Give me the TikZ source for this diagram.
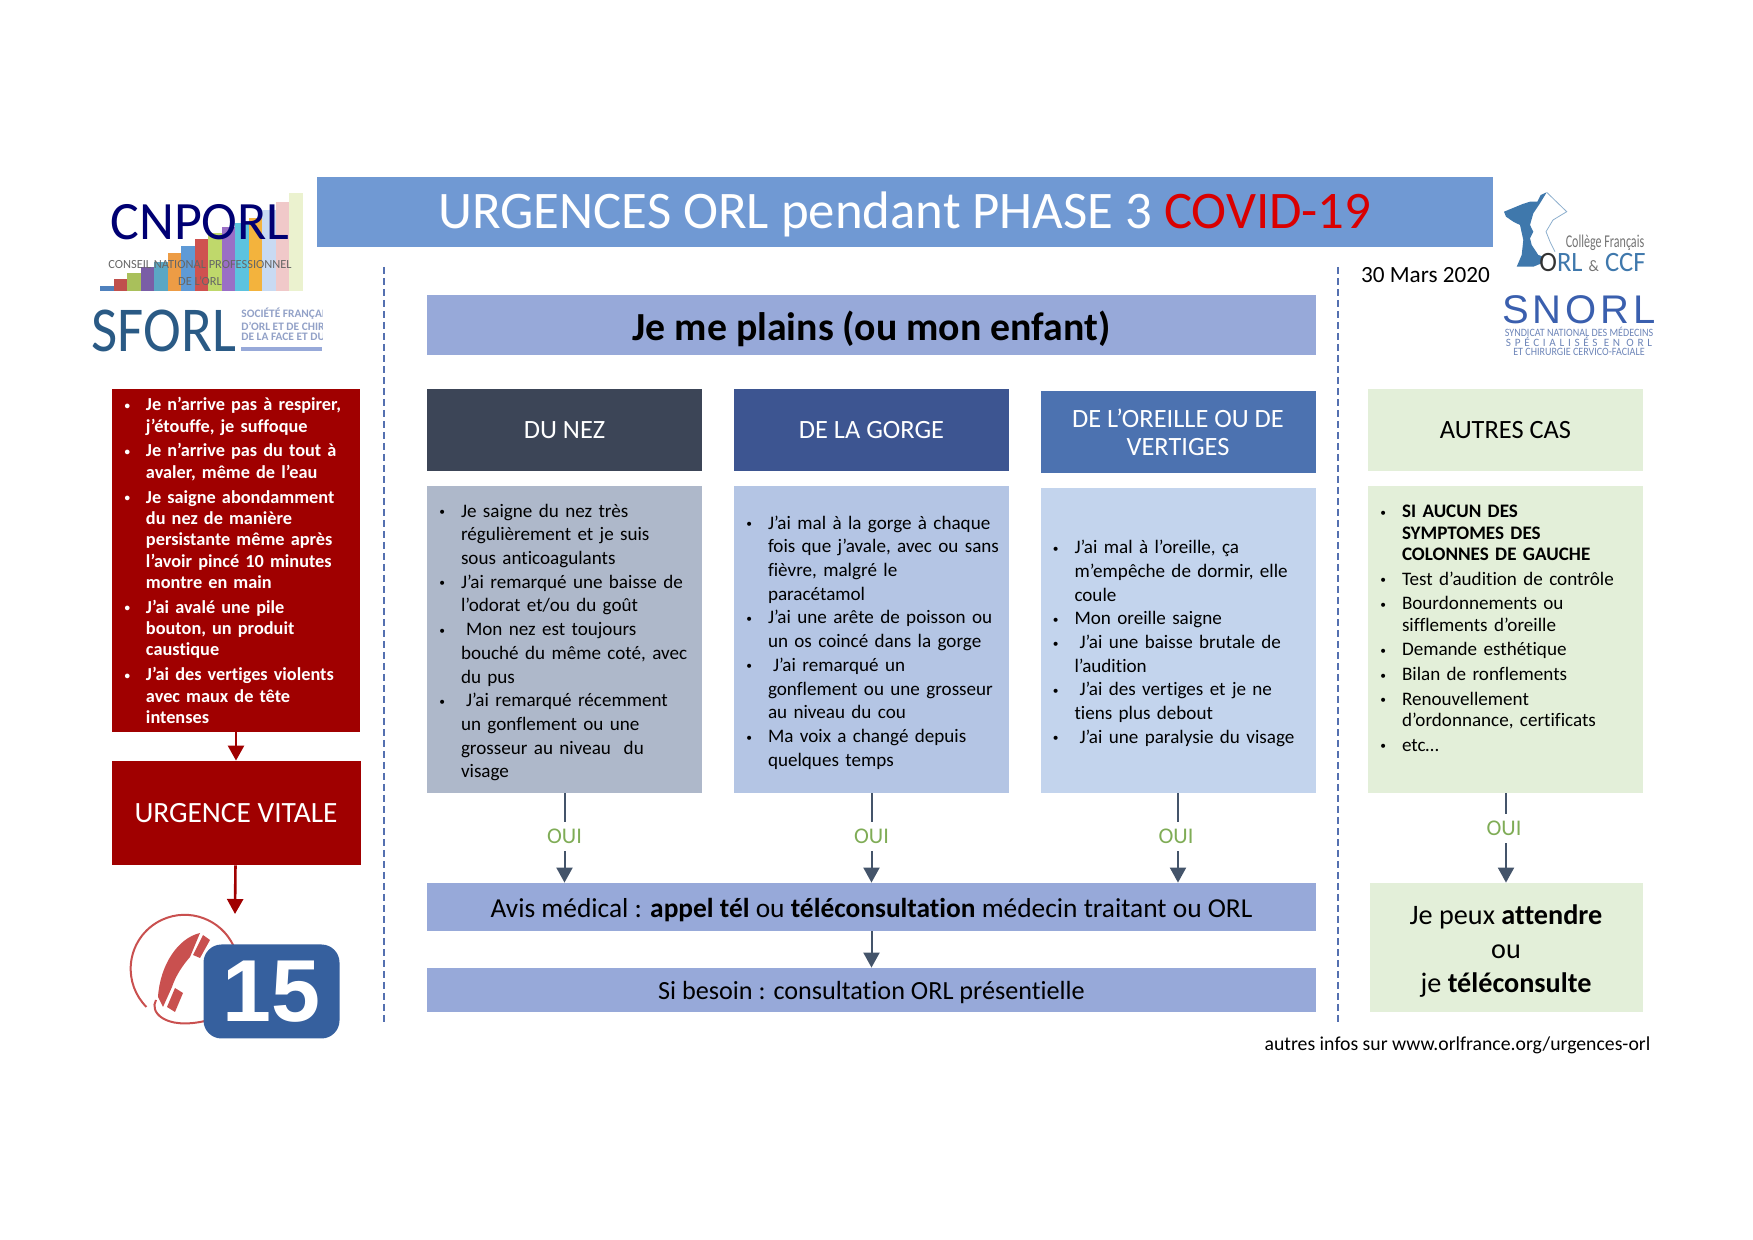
\documentclass[tikz,border=0pt]{standalone}
\usepackage{fontspec}
\usepackage{graphicx}
\setmainfont{Carlito}[Ligatures=NoCommon]
\newfontfamily\snorlA[LetterSpace=9.5]{Liberation Sans}
\newfontfamily\snorlB[LetterSpace=33]{Carlito}
\newfontfamily\quinzefont{Liberation Sans}
\usetikzlibrary{calc}
\usetikzlibrary{arrows.meta}
\definecolor{cTitle}{HTML}{7099D3}
\definecolor{cBand}{HTML}{97A9D9}
\definecolor{cNez}{HTML}{3C4557}
\definecolor{cGorge}{HTML}{3D5591}
\definecolor{cOreille}{HTML}{4C72B0}
\definecolor{cNezB}{HTML}{AEB8CA}
\definecolor{cGorgeB}{HTML}{B4C5E4}
\definecolor{cOreilleB}{HTML}{C3D4ED}
\definecolor{cVert}{HTML}{E3EFD9}
\definecolor{cRouge}{HTML}{A00000}
\definecolor{cOui}{HTML}{7FAC56}
\definecolor{cFleche}{HTML}{44546A}
\definecolor{cTirets}{HTML}{5470B0}
\definecolor{cTel}{HTML}{C9504F}
\definecolor{cQuinze}{HTML}{36609E}
\definecolor{cLogo}{HTML}{2A5A85}
\definecolor{cCollege}{HTML}{3F78AC}
\definecolor{cSnorl}{HTML}{3A5FAE}
\definecolor{cSnorlB}{HTML}{6D85B8}
\tikzstyle{headbox} = [minimum width=137.5pt, minimum height=41pt, inner sep=0pt, align=center, font=\fontsize{13.2}{14}\selectfont]
\tikzstyle{bodybox} = [minimum height=153.5pt, inner sep=0pt, text width=137.5pt, align=left]
\tikzstyle{bodyA} = [bodybox, font=\fontsize{9.55}{11.85}\selectfont]
\tikzstyle{bodyB} = [bodybox, font=\fontsize{9.55}{10.65}\selectfont]
\tikzstyle{band} = [fill=cBand, minimum width=444.5pt, inner sep=0pt]
\tikzstyle{oui} = [text=cOui, minimum height=14.5pt, inner sep=0pt, font=\fontsize{11.2}{12}\selectfont]
\tikzstyle{flow} = [draw=cFleche, line width=1pt]
\tikzstyle{flowtip} = [flow, -{Triangle[width=8pt,length=7.5pt]}]
\tikzstyle{redtip} = [draw=cRouge, line width=1.3pt, -{Triangle[width=8pt,length=7.5pt]}]
\tikzstyle{sep} = [draw=cTirets, line width=1pt, dash pattern=on 3.5pt off 2pt]
\newenvironment{puces}[2]{\def\finpuces{#2}\begin{list}{\raisebox{.7pt}{\scalebox{.6}{\textbullet}}}{\setlength{\leftmargin}{17pt}\setlength{\labelwidth}{10pt}\setlength{\labelsep}{8pt}\setlength{\itemsep}{#1}\setlength{\parsep}{0pt}\setlength{\topsep}{0pt}\setlength{\partopsep}{0pt}\setlength{\rightmargin}{0pt}}}{\end{list}\par\vskip\finpuces\hrule height 0pt}
\begin{document}
\begin{tikzpicture}[x=0.5pt,y=-0.5pt]
    \useasboundingbox (0,0) rectangle (1753,1240);

    \node[fill=cTitle, minimum width=588pt, minimum height=35pt, inner sep=0pt, text=white, text height=21.2pt, text depth=5pt, font=\fontsize{26.4}{28}\selectfont] (title) at (905,212) {URGENCES ORL pendant PHASE 3 \textcolor{red!85!black}{COVID-19}};
    \node[inner sep=0pt, font=\fontsize{11.6}{13}\selectfont] (date) at (1425.5,275) {30 Mars 2020};
    \node[fill=cBand, minimum width=444.5pt, minimum height=30pt, inner sep=0pt, text height=20.2pt, text depth=4.6pt, font=\bfseries\fontsize{19.9}{20}\selectfont] (plains) at (871.5,325) {Je me plains (ou mon enfant)};

    \draw[sep] (384,267) -- (384,1022);
    \draw[sep] (1338,267) -- (1338,1022);

    % colonne rouge
    \node[fill=cRouge, minimum width=124pt, minimum height=171.5pt, inner sep=0pt, text width=124pt, align=left, text=white, font=\bfseries\fontsize{9.15}{10.68}\selectfont] (rouge) at (236,560.5) {\begin{puces}{1.7pt}{4pt}
        \item Je n’arrive pas à respirer,\\ j’étouffe, je suffoque
        \item Je n’arrive pas du tout à\\ avaler, même de l’eau
        \item Je saigne abondamment\\ du nez de manière\\ persistante même après\\ l’avoir pincé 10 minutes\\ montre en main
        \item J'ai avalé une pile\\ bouton, un produit\\ caustique
        \item J’ai des vertiges violents\\ avec maux de tête\\ intenses
    \end{puces}};
    \node[fill=cRouge, minimum width=124.5pt, minimum height=52pt, inner sep=0pt, text=white, font=\fontsize{14.7}{16}\selectfont] (vitale) at (236,813) {URGENCE VITALE};
    \coordinate (appel) at (235,914);
    \draw[redtip] (rouge) -- (vitale);
    \draw[redtip] (vitale) -- (appel);

    % les trois colonnes
    \node[headbox, fill=cNez, text=white] (nez) at (564.5,430) {DU NEZ};
    \node[headbox, fill=cGorge, text=white] (gorge) at (871.5,430) {DE LA GORGE};
    \node[headbox, fill=cOreille, text=white] (oreille) at (1178,432) {DE L’OREILLE OU DE\\VERTIGES};
    \node[headbox, fill=cVert] (autres) at (1505.5,430) {AUTRES CAS};

    \node[bodyA, fill=cNezB] (nez_b) at (564.5,639.5) {\begin{puces}{0pt}{2.2pt}
        \item Je saigne du nez très\\ régulièrement et je suis\\ sous anticoagulants
        \item J’ai remarqué une baisse de\\ l’odorat et/ou du goût
        \item \hspace*{2.5pt}Mon nez est toujours\\ bouché du même coté, avec\\ du pus
        \item \hspace*{2.5pt}J’ai remarqué récemment\\ un gonflement ou une\\ grosseur au niveau~ du\\ visage
    \end{puces}};
    \node[bodyA, fill=cGorgeB] (gorge_b) at (871.5,639.5) {\begin{puces}{0pt}{2.2pt}
        \item J’ai mal à la gorge à chaque\\ fois que j’avale, avec ou sans\\ fièvre, malgré le\\ paracétamol
        \item J'ai une arête de poisson ou\\ un os coincé dans la gorge
        \item \hspace*{2.5pt}J’ai remarqué un\\ gonflement ou une grosseur\\ au niveau du cou
        \item Ma voix a changé depuis\\ quelques temps
    \end{puces}};
    \node[bodyA, fill=cOreilleB, minimum height=152.5pt] (oreille_b) at (1178,640.5) {\begin{puces}{0pt}{2.2pt}
        \item J’ai mal à l’oreille, ça\\ m’empêche de dormir, elle\\ coule
        \item Mon oreille saigne
        \item \hspace*{2.5pt}J’ai une baisse brutale de\\ l’audition
        \item \hspace*{2.5pt}J’ai des vertiges et je ne\\ tiens plus debout
        \item \hspace*{2.5pt}J’ai une paralysie du visage
    \end{puces}};
    \node[bodyB, fill=cVert] (autres_b) at (1505.5,639.5) {\begin{puces}{1.7pt}{15.6pt}
        \item \textbf{SI AUCUN DES}\\ \textbf{SYMPTOMES DES}\\ \textbf{COLONNES DE GAUCHE}
        \item Test d’audition de contrôle
        \item Bourdonnements ou\\ sifflements d’oreille
        \item Demande esthétique
        \item Bilan de ronflements
        \item Renouvellement\\ d'ordonnance, certificats
        \item etc…
    \end{puces}};

    \node[oui] (oui_nez) at (564.5,836.5) {OUI};
    \node[oui] (oui_gorge) at (871.5,836.5) {OUI};
    \node[oui] (oui_oreille) at (1178,836.5) {OUI\kern2pt};
    \node[oui] (oui_autres) at (1506,828.5) {OUI\kern2pt};

    \node[band, minimum height=24pt, text height=13.5pt, text depth=2.5pt, font=\fontsize{13.7}{15}\selectfont] (avis) at (871.5,907) {Avis médical : \textbf{appel tél} ou \textbf{téléconsultation} médecin traitant ou ORL};
    \node[band, minimum height=22pt, text height=12pt, text depth=2.5pt, font=\fontsize{13.1}{15}\selectfont] (besoin) at (871.5,990) {Si besoin : consultation ORL présentielle};
    \node[fill=cVert, minimum width=136.5pt, minimum height=64.5pt, inner sep=0pt, align=center, font=\fontsize{14.1}{17}\selectfont] (attendre) at (1506,947.5) {\rule{0pt}{13.1pt}Je peux \textbf{attendre}\\ou\\je \textbf{téléconsulte}};
    \node[inner sep=0pt, font=\fontsize{9.87}{11}\selectfont] (infos) at (1457.5,1045) {autres infos sur www.orlfrance.org/urgences-orl};

    \draw[flow] (nez_b) -- (oui_nez);
    \draw[flow] (gorge_b) -- (oui_gorge);
    \draw[flow] (oreille_b) -- (oui_oreille);
    \draw[flow] (autres_b.south -| oui_autres) -- (oui_autres);
    \draw[flowtip] (oui_nez) -- (oui_nez |- avis.north);
    \draw[flowtip] (oui_gorge) -- (oui_gorge |- avis.north);
    \draw[flowtip] (oui_oreille) -- (oui_oreille |- avis.north);
    \draw[flowtip] (oui_autres) -- (attendre);
    \draw[flowtip] (avis) -- (besoin);

    % logo CNPORL
    \foreach \i/\tip/\teinte in {0/286/4F81BD, 1/279/C0504D, 2/273/A9C05B, 3/267/7A5EA6, 4/262/5BA7C4, 5/253/ED9C45, 6/246/5F9AD6, 7/239/CF5250, 8/233/BFD86B, 9/227/9A6FC6, 10/223/5CC3DF, 11/218/F3B33D, 12/210/C8DAF2, 13/202/F0C9C9, 14/193/EBF2CF} {
        \definecolor{cBarre}{HTML}{\teinte}
        \fill[cBarre] ({100+\i*13.5},\tip) rectangle ({113.5+\i*13.5},291);
    }
    \node[inner sep=0pt, text=blue!45!black, font=\fontsize{27}{30}\selectfont] (cnporl) at (200,222) {CNPORL};
    \node[inner sep=0pt, text=black!60, font=\fontsize{6.2}{8}\selectfont] (cnporl_a) at (200,265) {CONSEIL NATIONAL PROFESSIONNEL};
    \node[inner sep=0pt, text=black!60, font=\fontsize{6.2}{8}\selectfont] (cnporl_b) at (200,281) {DE L'ORL};

    % logo SFORL
    \node[inner sep=0pt, text=cLogo, font=\fontsize{32}{34}\selectfont] (sforl) at (164,331) {\scalebox{.89}[1]{SFORL}};
    \begin{scope}
        \clip (241,305) rectangle (322,355);
        \node[anchor=west, inner sep=0pt, text=cBand!80!gray, font=\bfseries\fontsize{5.7}{6}\selectfont] (sforl_a) at (241,314) {SOCIÉTÉ FRANÇAI};
        \node[anchor=west, inner sep=0pt, text=cBand!80!gray, font=\bfseries\fontsize{5.7}{6}\selectfont] (sforl_b) at (241,326) {D'ORL ET DE CHIRU};
        \node[anchor=west, inner sep=0pt, text=cBand!80!gray, font=\bfseries\fontsize{5.7}{6}\selectfont] (sforl_c) at (241,337) {DE LA FACE ET DU};
    \end{scope}
    \fill[cBand] (241,347.5) rectangle (322,351.5);

    % logo college
    \fill[cCollege] (1546.7,192.3) -- (1540.7,195) -- (1537.3,201.7) -- (1530,201.7) -- (1522.7,204) -- (1504,211.7) -- (1506,216.7) -- (1513.3,221.7) -- (1520,225) -- (1523.3,240) -- (1521.7,255) -- (1516.7,266.7) -- (1533.3,266.7) -- (1541.7,263.3) -- (1543.3,256.7) -- (1538.3,255) -- (1531.7,245) -- (1530,238.3) -- (1533.3,231.7) -- (1530,225) -- (1533.3,213.3) -- (1540,203.3) -- cycle;
    \draw[cCollege!60!white, line width=.4pt] (1546.7,192.3) -- (1566.7,211.7) -- (1553,220) -- (1546,231.7) -- (1550,241.7) -- (1555,251.7);
    \node[inner sep=0pt, text=black!55, font=\fontsize{9}{10}\selectfont] (college) at (1605,243) {\scalebox{.67}[1]{Collège Français}};
    \node[inner sep=0pt, font=\fontsize{14}{15}\selectfont] (orl_ccf) at (1592.5,262.5) {\scalebox{.95}[1]{\textcolor{black!80}{O}\textcolor{cCollege}{RL} \textcolor{black!55}{\footnotesize\&} \textcolor{cCollege}{CCF}}};

    % logo SNORL
    \node[inner sep=0pt, text=cSnorl, font=\snorlA\fontsize{20}{22}\selectfont] (snorl) at (1579,310) {SNORL};
    \node[inner sep=0pt, text=cSnorlB, font=\fontsize{5.6}{7}\selectfont] (snorl_a) at (1579,332) {\scalebox{.9}[1]{SYNDICAT NATIONAL DES MÉDECINS}};
    \node[inner sep=0pt, text=cSnorlB, font=\snorlB\fontsize{5.6}{7}\selectfont] (snorl_b) at (1579,342) {SPÉCIALISÉS EN ORL};
    \node[inner sep=0pt, text=cSnorlB, font=\fontsize{5.6}{7}\selectfont] (snorl_c) at (1579,352) {\scalebox{.9}[1]{ET CHIRURGIE CERVICO-FACIALE}};

    % telephone et 15
    \draw[cTel, line width=1pt] (233.6,946) arc[start angle=25,end angle=225,radius=27pt];
    \fill[cTel] (200,933) .. controls (178,938) and (160,965) .. (158,997) -- (163,1007) -- (172,987) .. controls (176,975) and (183,965) .. (190,957) -- cycle;
    \fill[cTel] (203,935) -- (210,940) -- (200,958) -- (193,955) -- cycle;
    \fill[cTel] (175,988) -- (183,993) -- (175,1012) -- (167,1007) -- cycle;
    \draw[cTel, line width=1pt] (156,1000) .. controls (149,1012) and (165,1030) .. (205,1021);
    \node[fill=cQuinze, rounded corners=9pt, minimum width=68pt, minimum height=47pt, inner sep=0pt, text=white, font=\quinzefont\bfseries\fontsize{44}{46}\selectfont] (quinze) at (271.5,991.5) {15};
\end{tikzpicture}
\end{document}
